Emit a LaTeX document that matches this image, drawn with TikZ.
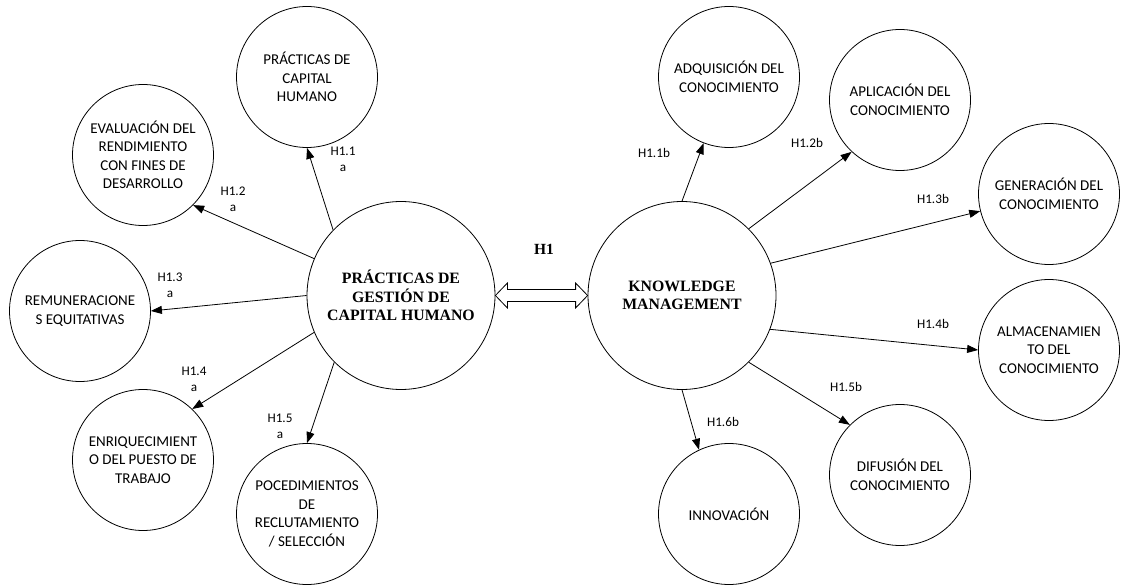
\documentclass[tikz,border=0pt]{standalone}
\usepackage{fontspec}
\setmainfont{Carlito}
\newfontfamily\serifbold{Liberation Serif}
\usetikzlibrary{arrows.meta,calc}

\tikzset{
  small/.style={circle, draw, line width=0.8pt, minimum size=141pt, inner sep=0pt,
    align=center, font=\fontsize{15}{18.5}\selectfont},
  central/.style={circle, draw, line width=0.8pt, minimum size=188pt, inner sep=0pt,
    align=center, font=\serifbold\bfseries\fontsize{15.8}{18.5}\selectfont},
  hyp/.style={inner sep=0pt, align=center, font=\fontsize{13.2}{16}\selectfont},
  arr/.style={line width=0.8pt, -{Triangle[length=11pt,width=8pt]}},
}

\begin{document}
\begin{tikzpicture}[x=1pt,y=-1pt]
  \useasboundingbox[fill=white] (0,0) rectangle (1122,585);

  % central constructs
  \node[central] (c1) at (401,295.5) {PRÁCTICAS DE\\GESTIÓN DE\\CAPITAL HUMANO};
  \node[central] (c2) at (682,295.5) {KNOWLEDGE\\MANAGEMENT};

  % human capital practices
  \node[small] (s1) at (307,77)  {PRÁCTICAS DE\\CAPITAL\\HUMANO};
  \node[small] (s2) at (143,155) {EVALUACIÓN DEL\\RENDIMIENTO\\CON FINES DE\\DESARROLLO};
  \node[small] (s3) at (80,311)  {REMUNERACIONE\\S EQUITATIVAS};
  \node[small] (s4) at (143,460) {ENRIQUECIMIENT\\O DEL PUESTO DE\\TRABAJO};
  \node[small] (s5) at (307,514) {POCEDIMIENTOS\\DE\\RECLUTAMIENTO\\/ SELECCIÓN};

  % knowledge management processes
  \node[small] (k1) at (729,77)   {ADQUISICIÓN DEL\\CONOCIMIENTO};
  \node[small] (k2) at (900,100)  {APLICACIÓN DEL\\CONOCIMIENTO};
  \node[small] (k3) at (1049,194) {GENERACIÓN DEL\\CONOCIMIENTO};
  \node[small] (k4) at (1049,350) {ALMACENAMIEN\\TO DEL\\CONOCIMIENTO};
  \node[small] (k5) at (900,475)  {DIFUSIÓN DEL\\CONOCIMIENTO};
  \node[small] (k6) at (729,514)  {INNOVACIÓN};

  % hypothesis arrows
  \draw[arr] (c1.136) -- (s1.270);
  \draw[arr] (c1.157) -- (s2.315);
  \draw[arr] (c1.180) -- (s3.0);
  \draw[arr] (c1.203) -- (s4.46);
  \draw[arr] (c1.225) -- (s5.90);

  \draw[arr] (c2.90)  -- (k1.249);
  \draw[arr] (c2.45)  -- (k2.227);
  \draw[arr] (c2.20)  -- (k3.194);
  \draw[arr] (c2.-21) -- (k4.180);
  \draw[arr] (c2.-45) -- (k5.135);
  \draw[arr] (c2.-90) -- (k6.115);

  % hollow double arrow between the two constructs
  \coordinate (L) at (c1.east);
  \coordinate (R) at (c2.west);
  \draw[line width=0.8pt, line join=miter]
    (L) -- ($(L)+(12,-12.5)$) -- ($(L)+(12,-6)$) -- ($(R)+(-12,-6)$)
        -- ($(R)+(-12,-12.5)$) -- (R) -- ($(R)+(-12,12.5)$) -- ($(R)+(-12,6)$)
        -- ($(L)+(12,6)$) -- ($(L)+(12,12.5)$) -- cycle;

  % hypothesis labels
  \node[inner sep=0pt, font=\serifbold\bfseries\fontsize{15.5}{18}\selectfont] (h1) at (544,249) {H1};
  \node[hyp] (h11a) at (343,159) {H1.1\\a};
  \node[hyp] (h12a) at (233,199) {H1.2\\a};
  \node[hyp] (h13a) at (170,285) {H1.3\\a};
  \node[hyp] (h14a) at (194,379) {H1.4\\a};
  \node[hyp] (h15a) at (280,426) {H1.5\\a};
  \node[hyp] (h11b) at (654,153) {H1.1b};
  \node[hyp] (h12b) at (807,143) {H1.2b};
  \node[hyp] (h13b) at (933,199) {H1.3b};
  \node[hyp] (h14b) at (933,324) {H1.4b};
  \node[hyp] (h15b) at (846,387) {H1.5b};
  \node[hyp] (h16b) at (723,422) {H1.6b};
\end{tikzpicture}
\end{document}
